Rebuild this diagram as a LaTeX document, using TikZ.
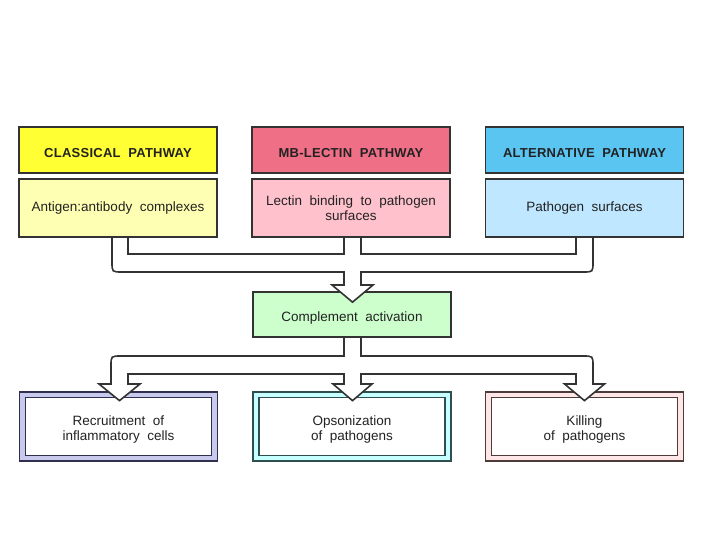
\documentclass[tikz,border=0pt]{standalone}
\usepackage{fontspec}
\usetikzlibrary{calc}
\newfontfamily\lab[WordSpace=2]{Liberation Sans}
\newfontfamily\labh[LetterSpace=2,WordSpace=2]{Liberation Sans Bold}
\newcommand\tup[1]{\rule{0pt}{#1}}
\definecolor{clh}{HTML}{FFFF33}
\definecolor{clb}{HTML}{FFFFB3}
\definecolor{lch}{HTML}{EF6F87}
\definecolor{lcb}{HTML}{FFC1CC}
\definecolor{alh}{HTML}{5BC5F2}
\definecolor{alb}{HTML}{BFE7FF}
\definecolor{grn}{HTML}{CCFFCC}
\definecolor{recf}{HTML}{C9C9EE}
\definecolor{recd}{HTML}{2F2F4F}
\definecolor{opsf}{HTML}{C6FFFF}
\definecolor{opsd}{HTML}{2F4F4F}
\definecolor{kilf}{HTML}{FFE6E6}
\definecolor{kild}{HTML}{4F3A3A}
\definecolor{txt}{HTML}{222222}
\definecolor{edge}{HTML}{333333}
\begin{document}
\begin{tikzpicture}[x=1pt,y=-1pt,
  hdr/.style={draw=edge,line width=1.7pt,inner sep=0pt,minimum width=198pt,minimum height=46pt,
    font=\labh\fontsize{13}{15}\selectfont,text=txt},
  sub/.style={draw=edge,line width=1.7pt,inner sep=0pt,minimum width=198pt,minimum height=58pt,
    font=\lab\fontsize{13.5}{14.5}\selectfont,text=txt,align=center},
  outbox/.style={line width=1.9pt,inner sep=0pt,minimum width=198pt,minimum height=69pt},
  inbox/.style={draw=edge,fill=white,line width=1.7pt,inner sep=0pt,minimum width=186pt,minimum height=58pt,
    font=\lab\fontsize{13.5}{15}\selectfont,text=txt,align=center},
  pipe/.style={draw=edge,line width=1.6pt,line join=miter}]
\useasboundingbox (0,0) rectangle (720,540);
\fill[white] (0,0) rectangle (720,540);
% header row
\node[hdr,fill=clh] (clh) at (118,150) {\tup{15pt}CLASSICAL PATHWAY};
\node[hdr,fill=lch] (lch) at (351,150) {\tup{15pt}MB-LECTIN PATHWAY};
\node[hdr,fill=alh] (alh) at (584.5,150) {\tup{15pt}ALTERNATIVE PATHWAY};
% second row
\node[sub,fill=clb] (clb) at (118,208) {Antigen:antibody complexes};
\node[sub,fill=lcb] (lcb) at (351,208) {Lectin binding to pathogen\\surfaces};
\node[sub,fill=alb] (alb) at (584.5,208) {Pathogen surfaces};
% complement activation
\node[sub,fill=grn,minimum height=45pt] (ca) at (352,314.5) {\tup{17pt}Complement activation};
% bottom row
\node[outbox,draw=recd,fill=recf] (reco) at (118.5,426.5) {};
\node[inbox,draw=recd] (rec) at (reco.center) {\tup{15pt}Recruitment of\\inflammatory cells};
\node[outbox,draw=opsd,fill=opsf] (opso) at (352,426.5) {};
\node[inbox,draw=opsd] (ops) at (opso.center) {\tup{15pt}Opsonization\\of pathogens};
\node[outbox,draw=kild,fill=kilf] (kilo) at (584.5,426.5) {};
\node[inbox,draw=kild] (kil) at (kilo.center) {\tup{15pt}Killing\\of pathogens};
% top collector
\coordinate (tip1) at ($(ca.north)+(0.5,11)$);
\fill[white] (344,272) -- (344,285) -- (332,285) -- (tip1) -- (373,285) -- (361,285) -- (361,272) -- cycle;
\draw[pipe] (112,237) -- (112,262) .. controls (112,272) .. (122,272) -- (344,272) -- (344,285) -- (332,285)
  -- (tip1) -- (373,285) -- (361,285) -- (361,272) -- (583,272) .. controls (593,272) .. (593,262) -- (593,237);
\draw[pipe] (128,237) -- (128,254) -- (344,254) -- (344,237);
\draw[pipe] (361,237) -- (361,254) -- (576,254) -- (576,237);
% bottom distributor
\coordinate (tipa) at ($(rec.north)+(1,4)$);
\coordinate (tipb) at ($(ops.north)+(0.5,4)$);
\coordinate (tipc) at ($(kil.north)+(0,4)$);
\path[pipe,fill=white] (344,337) -- (344,356) -- (121,356) .. controls (111,356) .. (111,366) -- (111,384)
  -- (99,384) -- (tipa) -- (140,384) -- (128,384) -- (128,374) -- (344,374) -- (344,384) -- (333,384)
  -- (tipb) -- (372,384) -- (361,384) -- (361,374) -- (576,374) -- (576,384) -- (564.5,384) -- (tipc)
  -- (604.5,384) -- (593,384) -- (593,366) .. controls (593,356) .. (583,356) -- (361,356) -- (361,337) -- cycle;
\end{tikzpicture}
\end{document}
